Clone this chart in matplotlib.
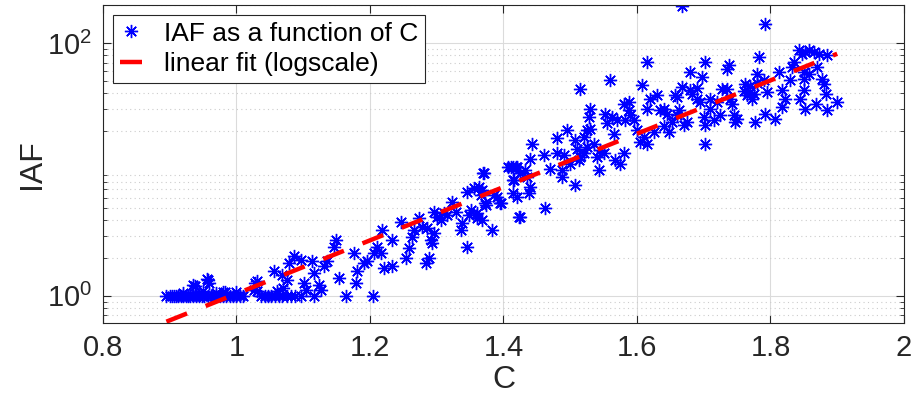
import numpy as np
import matplotlib
matplotlib.use("Agg")
import matplotlib.pyplot as plt

# C values with IAF == 1 (dense bottom row)
c_ones = [0.895, 0.900, 0.903, 0.907, 0.910, 0.913, 0.917, 0.920, 0.924, 0.928,
          0.931, 0.935, 0.940, 0.944, 0.948, 0.952, 0.957, 0.962, 0.966, 0.970,
          0.975, 0.980, 0.985, 0.990, 0.995, 1.000, 1.005, 1.010, 1.037, 1.042,
          1.047, 1.052, 1.058, 1.063, 1.068, 1.075, 1.082, 1.087, 1.097, 1.116,
          1.164, 1.204]

# remaining points
c_vals = [0.920, 0.935, 0.950, 0.957, 0.970, 0.980, 1.000, 1.028, 1.030, 1.060, 1.070,
          0.9385, 0.9585, 0.956, 0.9835, 1.026, 1.031, 1.056, 1.0685, 1.076, 1.0785,
          1.086, 1.096, 1.101, 1.1035, 1.1135, 1.116, 1.1235, 1.126, 1.131, 1.136,
          1.146, 1.1485, 1.1535, 1.176, 1.181, 1.1785, 1.191, 1.196, 1.206, 1.211,
          1.216, 1.2185, 1.221, 1.2335, 1.2335, 1.246, 1.2535, 1.2585, 1.2635, 1.266,
          1.2735, 1.2785, 1.286, 1.291, 1.2935, 1.296, 1.2835, 1.2885, 1.296, 1.301,
          1.306, 1.311, 1.316, 1.3235, 1.3285, 1.336, 1.3385, 1.346, 1.3485, 1.351,
          1.361, 1.361, 1.346, 1.356, 1.3635, 1.371, 1.366, 1.3735, 1.3835, 1.386,
          1.391, 1.396, 1.411, 1.4185, 1.416, 1.421, 1.4235,
          1.370, 1.3675, 1.3725, 1.3675, 1.395, 1.4075, 1.415, 1.420, 1.415, 1.425,
          1.4325, 1.435, 1.440, 1.4375, 1.4425, 1.440, 1.425, 1.415, 1.4625, 1.460,
          1.480, 1.480, 1.4875, 1.4875, 1.495, 1.5075, 1.510, 1.515, 1.5075, 1.515,
          1.5125, 1.520, 1.525, 1.530, 1.5275, 1.525, 1.535, 1.540, 1.5425, 1.545,
          1.550, 1.5525, 1.560, 1.555, 1.5625, 1.565, 1.5675, 1.570, 1.575, 1.580,
          1.5825, 1.5875, 1.5875, 1.595, 1.600, 1.605, 1.6075, 1.610, 1.615, 1.615,
          1.615, 1.625, 1.630, 1.635, 1.640, 1.645, 1.6475, 1.6525, 1.6575, 1.660,
          1.6625, 1.6675, 1.670, 1.675, 1.680, 1.680, 1.6825, 1.690, 1.695, 1.6975,
          1.7025, 1.7025, 1.700, 1.7025, 1.710, 1.715, 1.720, 1.725, 1.7275, 1.735,
          1.735, 1.7375, 1.7425, 1.745, 1.7475, 1.750, 1.7625, 1.765, 1.770, 1.7725,
          1.775, 1.7775, 1.780, 1.7825, 1.790, 1.7925, 1.795, 1.7925, 1.6675, 1.8075,
          1.8125, 1.8175, 1.8175, 1.8225, 1.830, 1.8325, 1.835, 1.8425, 1.8475, 1.8525,
          1.8575, 1.865, 1.8725, 1.885, 1.845, 1.850, 1.850, 1.850, 1.8525, 1.8575,
          1.8675, 1.870, 1.8775, 1.880, 1.8825, 1.885, 1.900,
          1.580, 1.590, 1.620, 1.640, 1.660, 1.690, 1.710, 1.740, 1.760, 1.770,
          1.780, 1.470, 1.500, 1.490, 1.520, 1.530]
iaf_vals = [1.05, 1.22, 1.10, 1.34, 1.05, 1.08, 1.07, 1.27, 1.10, 1.10, 1.15,
            1.20, 1.27, 1.35, 1.08, 1.11, 1.30, 1.56, 1.47, 1.34, 1.81,
            2.05, 1.92, 1.26, 1.11, 1.88, 1.51, 1.22, 1.11, 1.71, 1.88,
            2.45, 2.77, 1.38, 2.17, 1.56, 1.26, 1.81, 1.88, 2.17, 2.45,
            2.17, 3.32, 1.65, 1.71, 2.77, 3.86, 2.00, 2.38, 2.94, 3.32,
            4.10, 3.53, 3.42, 2.77, 2.61, 3.12, 1.81, 2.00, 4.63, 4.23,
            3.98, 4.49, 4.36, 5.56, 4.63, 3.32, 3.75, 2.45, 4.36, 4.77,
            4.10, 4.49, 6.67, 7.08, 7.30, 9.30, 6.27, 5.23, 3.32, 6.27,
            6.08, 5.39, 10.5, 10.5, 8.24, 6.08, 4.23,
            9.30, 6.87, 5.39, 3.98, 5.39, 10.5, 10.5, 10.5, 8.24, 9.30,
            9.88, 8.75, 12.2, 6.47, 16.0, 7.30, 4.23, 6.47, 4.92, 12.9,
            13.4, 17.6, 8.75, 9.88, 20.5, 17.1, 14.6, 12.6, 7.50, 43.6,
            11.9, 13.4, 15.1, 30.3, 26.1, 20.5, 16.0, 12.6, 9.88, 14.2,
            13.4, 27.7, 50.7, 23.1, 26.1, 19.2, 11.9, 24.5, 11.1, 13.4,
            24.5, 34.2, 29.4, 24.5, 20.5, 16.5, 46.3, 18.1, 16.0, 70.8,
            30.3, 19.8, 38.6, 29.4, 30.3, 27.7, 19.8, 23.7, 38.6, 37.5,
            29.4, 45.0, 22.4, 23.7, 59.0, 42.3, 39.8, 36.4, 34.2, 53.9,
            70.8, 16.0, 26.1, 22.4, 36.4, 24.5, 34.2, 26.9, 43.6, 43.6,
            62.7, 66.7, 33.2, 26.9, 23.7, 25.3, 47.7, 38.6, 41.0, 36.4,
            39.8, 23.7, 57.3, 77.5, 50.7, 27.7, 41.0, 142.0, 198.0, 25.3,
            59.0, 42.3, 31.2, 36.4, 50.7, 64.7, 70.8, 87.5, 82.4, 85.0,
            87.5, 85.0, 82.4, 80.0, 36.4, 59.0, 52.3, 42.3, 30.3, 57.3,
            33.2, 64.7, 52.3, 47.7, 39.8, 29.4, 34.2,
            33.0, 27.0, 36.0, 22.0, 27.0, 44.0, 30.0, 36.0, 42.0, 46.0,
            48.0, 10.0, 11.0, 13.0, 18.0, 21.0]

C = np.array(c_ones + c_vals)
IAF = np.array([1.0] * len(c_ones) + iaf_vals)

# linear fit of log10(IAF) against C
p = np.polyfit(C, np.log10(IAF), 1)
c_fit = np.array([C.min(), C.max()])
iaf_fit = 10 ** np.polyval(p, c_fit)

plt.rcParams["font.family"] = ["Liberation Sans", "DejaVu Sans"]
plt.rcParams["mathtext.default"] = "regular"

dark = (0.15, 0.15, 0.15)
fig = plt.figure(figsize=(9.14, 4.03), dpi=100)
ax = fig.add_axes([0.1127, 0.1985, 0.8763, 0.7891])

ax.plot(C, IAF, linestyle="none", marker=(8, 2, 0), markersize=9.5,
        markeredgewidth=1.0, color="#0000ff", label="IAF as a function of C")
ax.plot(c_fit, iaf_fit, color="#ff0000", linewidth=3.2, dashes=(5, 4.5),
        label="linear fit (logscale)")

ax.set_yscale("log")
ax.set_xlim(0.8, 2.0)
ax.set_ylim(0.61, 200)
ax.set_xticks([0.8, 1.0, 1.2, 1.4, 1.6, 1.8, 2.0])
ax.set_xticklabels(["0.8", "1", "1.2", "1.4", "1.6", "1.8", "2"])
ax.set_yticks([1, 100])
ax.set_yticklabels(["$10^{0}$", "$10^{2}$"])
ax.yaxis.set_minor_locator(matplotlib.ticker.LogLocator(base=10, subs=np.arange(2, 10)))
ax.yaxis.set_minor_formatter(matplotlib.ticker.NullFormatter())

ax.grid(True, which="major", color=(0.86, 0.86, 0.86), linewidth=0.8)
ax.grid(True, which="minor", axis="y", color=(0.8, 0.8, 0.8), linestyle=(0, (1, 3)), linewidth=0.8)
ax.set_axisbelow(True)

ax.tick_params(which="both", direction="in", top=True, right=True, colors=dark,
               labelsize=21)
ax.tick_params(which="major", length=6, width=0.8, pad=8)
ax.tick_params(which="minor", length=3, width=0.6)
for s in ax.spines.values():
    s.set_color(dark)
    s.set_linewidth(0.8)

ax.set_xlabel("C", fontsize=23, color=dark, labelpad=2)
ax.set_ylabel("IAF", fontsize=23, color=dark, labelpad=0)

leg = ax.legend(loc="upper left", fontsize=19, frameon=True, fancybox=False,
                edgecolor=dark, framealpha=1, borderaxespad=0.38,
                handlelength=0.85, handletextpad=0.85, borderpad=0.25,
                labelspacing=0.25)
leg.get_frame().set_linewidth(0.8)

fig.savefig("out.png", dpi=100)
